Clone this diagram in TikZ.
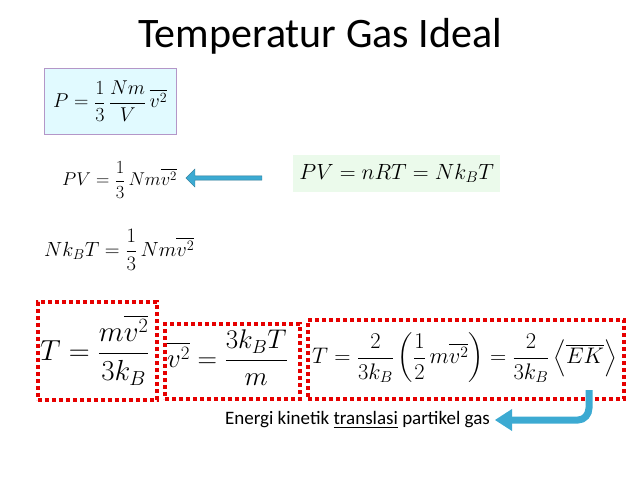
\RequirePackage{fix-cm}
\documentclass[tikz,border=0pt]{standalone}
\usepackage{fontspec}
\usepackage{amsmath}
\newfontfamily\calfont{Carlito}
\usetikzlibrary{arrows.meta,shapes.arrows}
\definecolor{redd}{RGB}{230,0,0}
\definecolor{arrblue}{RGB}{60,170,210}
\tikzset{
  eq/.style={inner sep=0pt,anchor=west},
  redbox/.style={draw=redd,line width=3.5pt,dash pattern=on 4pt off 3pt},
  fs/.style={font=\fontsize{#1}{#1}\selectfont},
}
\begin{document}
\begin{tikzpicture}[x=1pt,y=-1pt]
\useasboundingbox (0,0) rectangle (638,479);
\node[font=\calfont\fontsize{42}{46}\selectfont] (title) at (320,36) {Temperatur Gas Ideal};
\node[draw={rgb,255:red,180;green,150;blue,200},fill={rgb,255:red,225;green,250;blue,255},minimum width=132,minimum height=66,anchor=north west,inner sep=0pt] (b1) at (44,68) {};
\node[fs=20,inner sep=0pt] (e1) at (b1.center) {$P=\dfrac{1}{3}\,\dfrac{Nm}{V}\,\overline{v^2}$};
\node[fs=18.5,eq] (e2) at (62,180) {$PV=\dfrac{1}{3}\,Nm\overline{v^2}$};
\node[fill={rgb,255:red,235;green,250;blue,235},minimum width=207,minimum height=37,anchor=north west,inner sep=0pt] (g) at (293,155) {};
\node[fs=22,inner sep=0pt] (e3) at (g.center) {$PV=nRT=Nk_BT$};
\node[single arrow,shape border rotate=180,fill=arrblue,draw=arrblue!70!black,minimum height=76,minimum width=18,single arrow head extend=4,inner sep=1pt] (a1) at (225,178) {};
\node[fs=20.5,eq] (e4) at (44,250) {$Nk_BT=\dfrac{1}{3}\,Nm\overline{v^2}$};
\node[redbox,minimum width=119,minimum height=98,anchor=north west] (rA) at (36,300) {};
\node[fs=29,eq] (e5) at (40,350) {$T=\dfrac{m\overline{v^2}}{3k_B}$};
\node[redbox,minimum width=135,minimum height=75,anchor=north west] (rB) at (163,322) {};
\node[fs=27,eq] (e6) at (167,358) {$\overline{v^2}=\dfrac{3k_BT}{m}$};
\node[redbox,minimum width=316,minimum height=79,anchor=north west] (rC) at (306,318) {};
\node[fs=22.5,eq] (e7) at (312,358) {$T=\dfrac{2}{3k_B}\left(\dfrac{1}{2}\,m\overline{v^2}\right)=\dfrac{2}{3k_B}\left\langle\overline{EK}\right\rangle$};
\node[font=\calfont\fontsize{19}{22}\selectfont,anchor=east,inner sep=0pt] (lab) at (490,420) {Energi kinetik \underline{translasi} partikel gas};
\draw[arrblue,line width=7pt] (589,390) -- (589,408) to[out=-90,in=0] (578,420) -- (510,420);
\fill[arrblue] (512,409) -- (495,420) -- (512,431) -- cycle;
\end{tikzpicture}
\end{document}
